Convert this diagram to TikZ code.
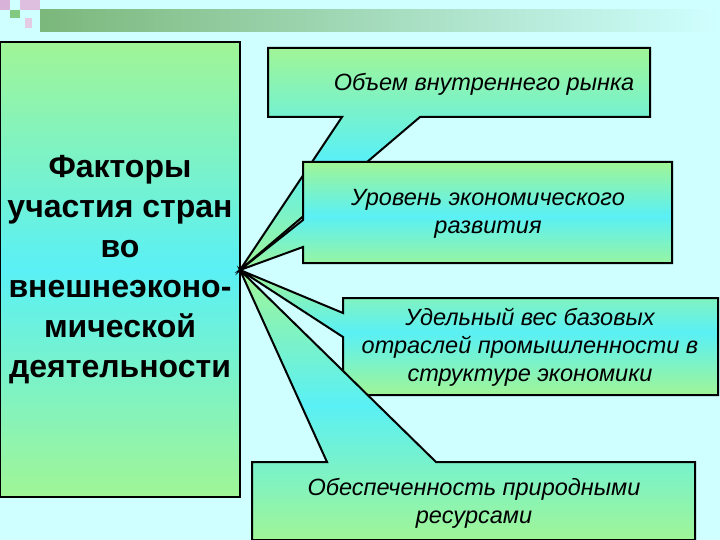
\documentclass[tikz,border=0pt]{standalone}
\usepackage{fontspec}
\setmainfont{Liberation Sans}
\begin{document}
\begin{tikzpicture}[x=1pt,y=-1pt,
  callout/.style={draw=black,line width=2pt,line join=miter,top color=cgreen,bottom color=cgreen,middle color=ccyan},
  lbl/.style={font=\itshape\fontsize{23.5}{28}\selectfont,align=center}]
\definecolor{cgreen}{RGB}{160,245,150}
\definecolor{ccyan}{RGB}{90,240,245}
\definecolor{bg}{RGB}{208,255,255}
\fill[bg] (0,0) rectangle (720,540);
\useasboundingbox (0,0) rectangle (720,540);
% decoration
\shade[left color=gray!70!green!80, right color=bg] (40,10) rectangle (720,32);
\fill[gray!60!green!70] (10,10) rectangle (20,18);
\fill[violet!25] (20,0) rectangle (40,10);
\fill[violet!20] (25,18) rectangle (32,28);
\fill[white!70!violet] (0,0) rectangle (10,10);
% left box
\shade[draw=black,line width=2pt,top color=cgreen,bottom color=cgreen,middle color=ccyan] (0,42) rectangle (240,497);
\node[font=\bfseries\fontsize{32}{40}\selectfont,align=center] (main) at (120,270) {Факторы\\участия стран\\во\\внешнеэконо-\\мической\\деятельности};
\coordinate (tip) at (240,270);
% callouts
\shade[callout] (268,48) -- (650,48) -- (650,117) -- (420,117) -- (tip) -- (342,117) -- (268,117) -- cycle;
\node[lbl] (t1) at (484,84) {Объем внутреннего рынка};
\shade[callout] (303,162) -- (672,162) -- (672,263) -- (303,263) -- (303,247) -- (tip) -- (303,220) -- cycle;
\node[lbl] (t2) at (488,214) {Уровень экономического\\развития};
\shade[callout] (343,298) -- (718,298) -- (718,395) -- (343,395) -- (343,337) -- (tip) -- (343,313) -- cycle;
\node[lbl] (t3) at (530,347) {Удельный вес базовых\\отраслей промышленности в\\структуре экономики};
\shade[callout] (252,462) -- (327,462) -- (tip) -- (436,462) -- (695,462) -- (695,540) -- (252,540) -- cycle;
\node[lbl] (t4) at (474,503) {Обеспеченность природными\\ресурсами};
\end{tikzpicture}
\end{document}
